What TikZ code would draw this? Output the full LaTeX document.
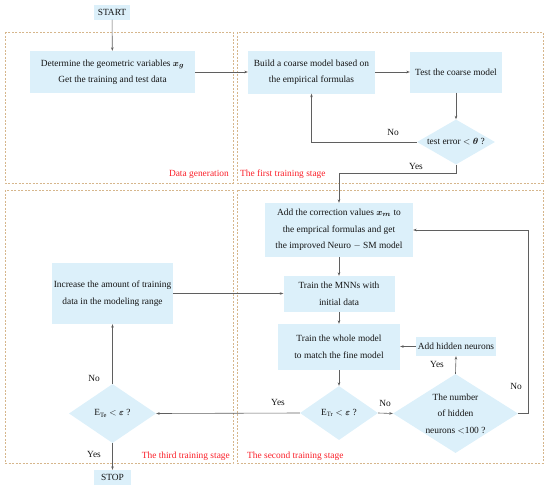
\documentclass[tikz,border=0pt]{standalone}
\usepackage{fontspec}
\setmainfont{Liberation Serif}
\usepackage{amsmath,amssymb,bm}
\usetikzlibrary{shapes.geometric,arrows.meta}
\definecolor{boxfill}{RGB}{220,240,250}
\definecolor{dashc}{RGB}{214,182,140}
\definecolor{linec}{RGB}{95,95,95}
\definecolor{labred}{RGB}{250,30,40}
\definecolor{txtc}{RGB}{20,20,20}
\begin{document}
\begin{tikzpicture}[x=1pt,y=-1pt,
  every node/.style={font=\fontsize{9.4}{16.5}\selectfont, text=txtc},
  pbox/.style={fill=boxfill, draw=none, inner sep=0pt, align=center},
  dia/.style={diamond, fill=boxfill, draw=none, inner sep=0pt},
  txt/.style={inner sep=0pt, align=center},
  region/.style={draw=dashc, line width=0.7pt, dash pattern=on 2pt off 1.5pt},
  stagelab/.style={text=labred, inner sep=0pt, anchor=base east},
  conn/.style={draw=linec, line width=0.6pt, -{Stealth[length=3.5pt,width=2.6pt]}},
  seg/.style={draw=linec, line width=0.6pt},
  lab/.style={inner sep=0pt}
]
\useasboundingbox (0,0) rectangle (550,488);

% regions
\draw[region] (5,32) rectangle (233,183);
\draw[region] (237,32) rectangle (543,183);
\draw[region] (5,190) rectangle (233,463);
\draw[region] (237,190) rectangle (543,463);
\node[stagelab] (l1) at (229,176) {Data generation};
\node[stagelab, anchor=base west] (l2) at (240,176) {The first training stage};
\node[stagelab] (l3) at (230,458) {The third training stage};
\node[stagelab, anchor=base west] (l4) at (247,458) {The second training stage};

% nodes
\node[pbox, minimum width=36pt, minimum height=15pt] (start) at (112,12) {START};
\node[pbox, minimum width=165pt, minimum height=42pt] (det) at (112.5,72) {Determine the geometric variables $\bm{x}_{\bm{g}}$\\Get the training and test data};
\node[pbox, minimum width=127pt, minimum height=43pt] (build) at (311.5,72) {Build a coarse model based on\\the empirical formulas};
\node[pbox, minimum width=92pt, minimum height=41pt] (test) at (456,72) {Test the coarse model};
\node[dia, minimum width=78pt, minimum height=45pt] (d1) at (456,142) {};
\node[txt] (d1t) at (d1) {test error $<\bm{\theta}$ ?};

\node[pbox, minimum width=148pt, minimum height=54pt] (add) at (339,230) {Add the correction values $\bm{x}_{\bm{m}}$ to\\the emprical formulas and get\\the improved Neuro $-$ SM model};
\node[pbox, minimum width=111pt, minimum height=36pt] (mnn) at (339,294) {Train the MNNs with\\initial data};
\node[pbox, minimum width=122pt, minimum height=46pt] (whole) at (339,347) {Train the whole model\\to match the fine model};
\node[pbox, minimum width=80pt, minimum height=19pt] (hid) at (456,346.5) {Add hidden neurons};
\node[dia, minimum width=78pt, minimum height=54pt] (d2) at (339,413) {};
\node[txt] (d2t) at (d2) {E\textsubscript{Tr} $<\bm{\varepsilon}$ ?};
\node[dia, minimum width=125pt, minimum height=79pt] (d3) at (455.5,413.5) {};
\node[txt] (d3t) at (d3) {The number\\of hidden\\neurons $<$100 ?};

\node[pbox, minimum width=121pt, minimum height=61pt] (inc) at (112.5,293.5) {Increase the amount of training\\data in the modeling range};
\node[dia, minimum width=87pt, minimum height=59pt] (d4) at (112.5,413.5) {};
\node[txt] (d4t) at (d4) {E\textsubscript{Te} $<\bm{\varepsilon}$ ?};
\node[pbox, minimum width=37pt, minimum height=15pt] (stop) at (112.5,477.5) {STOP};

% coordinates
\coordinate (c1) at (311.5,142);
\coordinate (c2) at (456,173);
\coordinate (c3) at (339,173);
\coordinate (c4) at (528,413.5);
\coordinate (c5) at (528,230);

% connectors
\draw[conn] (start) -- (det);
\draw[conn] (det) -- (build);
\draw[conn] (build) -- (test);
\draw[conn] (test) -- (d1);
\draw[conn] (d1.west) -- (c1) -- (build.south);
\draw[conn] (d1.south) -- (c2) -- (c3) -- (add.north);
\draw[conn] (add) -- (mnn);
\draw[conn] (mnn) -- (whole);
\draw[conn] (whole) -- (d2);
\draw[conn] (d2.east) -- (d3.west);
\draw[conn] (d3.north) -- (hid.south);
\draw[conn] (hid.west) -- (hid.west -| whole.east);
\draw[conn] (d3.east) -- (c4) -- (c5) -- (add.east);
\draw[conn] (d2.west) -- (d4.east);
\draw[conn] (d4.north) -- (inc.south);
\draw[conn] (inc.east) -- (inc.east -| mnn.west);
\draw[conn] (d4.south) -- (stop.north);

% labels
\node[lab] (no1) at (393,132) {No};
\node[lab] (yes1) at (416,166) {Yes};
\node[lab] (no2) at (385,403) {No};
\node[lab] (yes2) at (437,364.5) {Yes};
\node[lab] (no3) at (516,386) {No};
\node[lab] (yes3) at (278,402) {Yes};
\node[lab] (no4) at (94,378) {No};
\node[lab] (yes4) at (94,454) {Yes};
\end{tikzpicture}
\end{document}
